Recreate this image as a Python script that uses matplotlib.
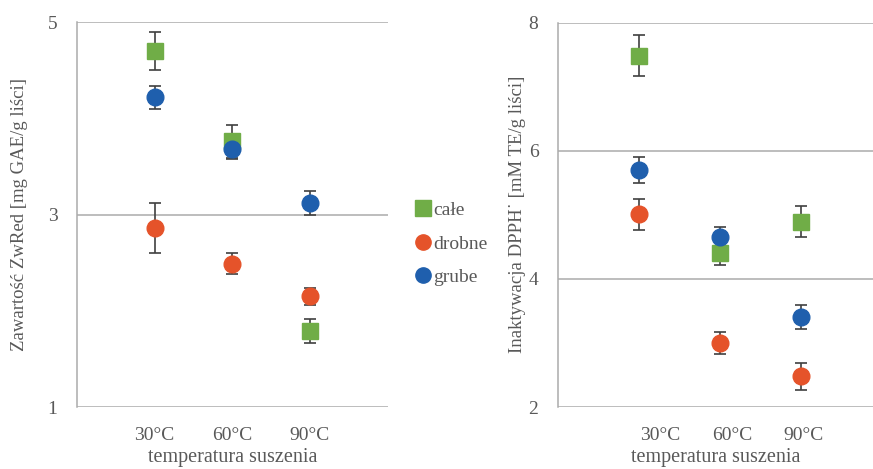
import matplotlib
matplotlib.use('Agg')
import matplotlib.pyplot as plt
from matplotlib.lines import Line2D

plt.rcParams['font.family'] = ['Liberation Serif', 'DejaVu Serif']

# dane
kategorie = ['30°C', '60°C', '90°C']
serie = ['całe', 'drobne', 'grube']

# lewy wykres: ZwRed
zw_cale = [4.70, 3.76, 1.79]
zw_cale_err = [0.20, 0.17, 0.12]
zw_drobne = [2.86, 2.49, 2.15]
zw_drobne_err = [0.26, 0.11, 0.09]
zw_grube = [4.22, 3.68, 3.12]
zw_grube_err = [0.12, 0.10, 0.12]

# prawy wykres: DPPH
dp_cale = [7.48, 4.40, 4.89]
dp_cale_err = [0.32, 0.18, 0.24]
dp_drobne = [5.01, 3.00, 2.48]
dp_drobne_err = [0.24, 0.17, 0.21]
dp_grube = [5.70, 4.65, 3.41]
dp_grube_err = [0.20, 0.16, 0.19]

KOLORY = {'całe': '#70AD47', 'drobne': '#E5532A', 'grube': '#1F5FAD'}
MARKERY = {'całe': 's', 'drobne': 'o', 'grube': 'o'}
TXT = '#595959'
GRID = '#ABABAB'

fig = plt.figure(figsize=(8.73, 4.69), dpi=100)
ax1 = fig.add_axes([0.088, 0.132, 0.356, 0.821])
ax2 = fig.add_axes([0.639, 0.132, 0.361, 0.820])

xs = [1, 2, 3]


def rysuj(ax, dane, ylim, yticks, ylabel, xticks_pos, xmax, ypad):
    for nazwa, (vals, errs) in dane.items():
        ax.errorbar(xs, vals, yerr=errs, fmt=MARKERY[nazwa], color=KOLORY[nazwa],
                    markersize=12, ecolor='#404040', elinewidth=1.2,
                    capsize=4, capthick=1.2, zorder=3)
    ax.set_xlim(0, xmax)
    ax.set_ylim(*ylim)
    ax.set_yticks(yticks)
    ax.set_xticks(xticks_pos)
    ax.set_xticklabels(kategorie)
    ax.yaxis.grid(True, color=GRID, linewidth=1.1)
    ax.set_axisbelow(True)
    for s in ['top', 'right', 'bottom']:
        ax.spines[s].set_visible(False)
    ax.spines['left'].set_color(GRID)
    ax.spines['left'].set_linewidth(1.1)
    ax.tick_params(length=0, colors=TXT, labelsize=14)
    ax.tick_params(axis='y', pad=14)
    ax.tick_params(axis='x', pad=14)
    ax.set_ylabel(ylabel, color=TXT, fontsize=13.5, labelpad=ypad)
    ax.set_xlabel('temperatura suszenia', color=TXT, fontsize=14.5, labelpad=3)


rysuj(ax1, {'całe': (zw_cale, zw_cale_err),
            'drobne': (zw_drobne, zw_drobne_err),
            'grube': (zw_grube, zw_grube_err)},
      (1, 5), [1, 3, 5], 'Zawartość ZwRed [mg GAE/g liści]', xs, 4, 14)

rysuj(ax2, {'całe': (dp_cale, dp_cale_err),
            'drobne': (dp_drobne, dp_drobne_err),
            'grube': (dp_grube, dp_grube_err)},
      (2, 8), [2, 4, 6, 8], 'Inaktywacja DPPH˙ [mM TE/g liści]',
      [1.26, 2.15, 3.03], 3.89, 2)

# legenda
uchwyty = [Line2D([], [], linestyle='none', marker=MARKERY[n], color=KOLORY[n],
                  markersize=11) for n in serie]
fig.legend(uchwyty, serie, loc='center left', bbox_to_anchor=(0.458, 0.48),
           frameon=False, handlelength=0.6, handletextpad=0.2,
           labelspacing=0.82, fontsize=14, labelcolor=TXT)

fig.savefig('out.png', dpi=100, facecolor='white')
